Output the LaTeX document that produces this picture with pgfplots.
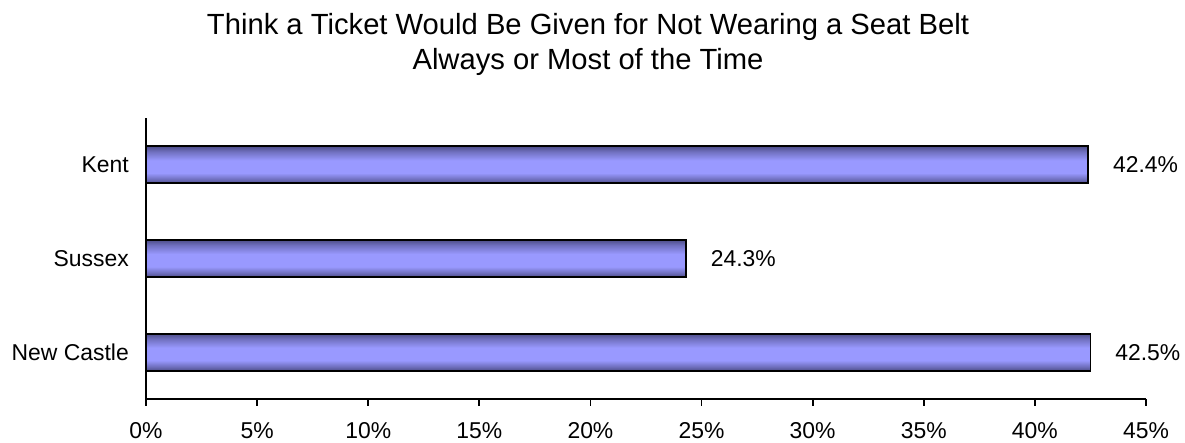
\documentclass[border=0pt]{standalone}
\usepackage{fontspec}
\setmainfont{Liberation Sans}
\usepackage{pgfplots}
\pgfplotsset{compat=1.18}
\definecolor{barLight}{RGB}{153,153,255}
\definecolor{barDark}{RGB}{78,78,138}
% vertical fill for the bars: dark rims, light centre (path spans 25bp..75bp)
\pgfdeclareverticalshading{barshade}{100bp}{%
  color(0bp)=(barDark); color(25bp)=(barDark);
  color(30bp)=(barDark!60!barLight);
  color(39bp)=(barLight); color(56bp)=(barLight);
  color(68bp)=(barDark!55!barLight);
  color(75bp)=(barDark); color(100bp)=(barDark)}
\pgfplotsset{barstyle/.style={draw=black, line width=1.8bp, shade, shading=barshade, bar shift=0pt}}
\begin{document}
\begin{tikzpicture}
\useasboundingbox (-146bp,-44bp) rectangle (1039bp,399bp);
\begin{axis}[
  at={(0,0)}, anchor=south west,
  scale only axis,
  width=1000bp, height=281bp,
  xbar, bar width=37bp,
  xmin=0, xmax=45, ymin=-0.5, ymax=2.5,
  axis x line=bottom, axis y line=left,
  axis line style={-, line width=1.8bp, black},
  xtick={0,5,...,45},
  xticklabel={\pgfmathprintnumber{\tick}\%},
  /pgf/number format/assume math mode=true,
  tick align=outside,
  major tick length=7bp,
  x tick style={line width=1.8bp, black},
  y tick style={draw=none},
  ytick={0,1,2},
  yticklabels={New Castle,Sussex,Kent},
  xticklabel style={font=\fontsize{23}{27}\selectfont, anchor=base, inner sep=0pt, yshift=-33bp},
  yticklabel style={font=\fontsize{23}{27}\selectfont, anchor=east, inner sep=0pt, xshift=-10bp},
  nodes near coords={\pgfmathprintnumber[fixed,precision=1,fixed zerofill]{\pgfplotspointmeta}\%},
  nodes near coords align=horizontal,
  every node near coord/.append style={font=\fontsize{23}{27}\selectfont, anchor=west, inner sep=0pt, xshift=24bp, black},
  point meta=x,
  clip=false,
]
% one plot per bar so each bar carries its own shading
\addplot[barstyle] coordinates {(42.5,0)}; % New Castle
\addplot[barstyle] coordinates {(24.3,1)}; % Sussex
\addplot[barstyle] coordinates {(42.4,2)}; % Kent
\end{axis}
\node[anchor=base, inner sep=0pt, font=\fontsize{29.3}{33}\selectfont] at (442bp,364bp) {Think a Ticket Would Be Given for Not Wearing a Seat Belt};
\node[anchor=base, inner sep=0pt, font=\fontsize{29.3}{33}\selectfont] at (442bp,329bp) {Always or Most of the Time};
\end{tikzpicture}
\end{document}
